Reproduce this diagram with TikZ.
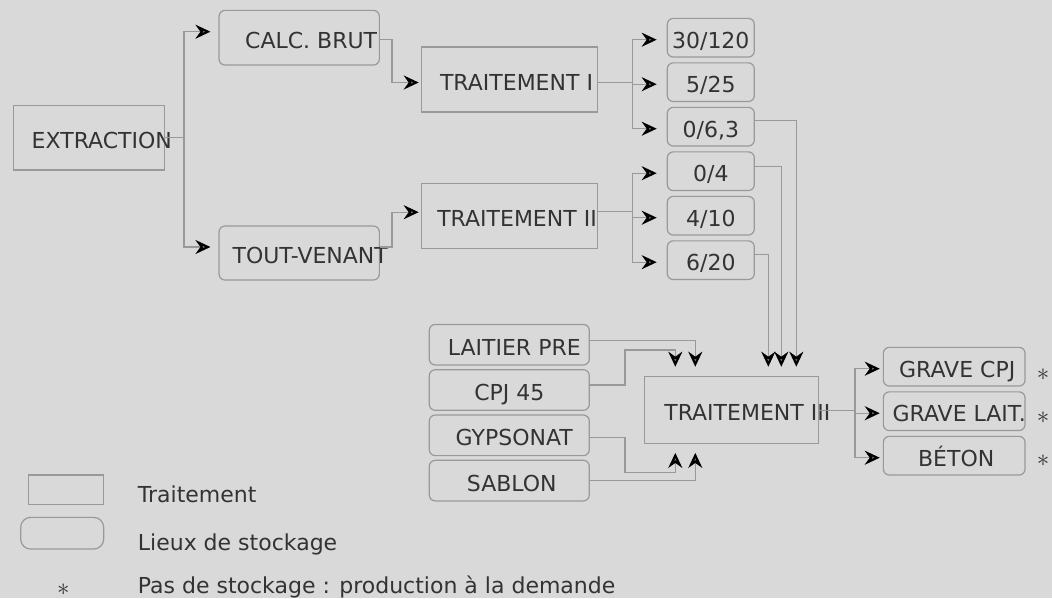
\documentclass[tikz,border=0pt]{standalone}
\usepackage{fontspec}
\setmainfont{DejaVu Sans}
\usetikzlibrary{arrows.meta, positioning}

\definecolor{bgcol}{HTML}{D9D9D9}
\definecolor{edgecol}{HTML}{999999}
\definecolor{txtcol}{HTML}{333333}

\begin{document}
\begin{tikzpicture}[
    x=1pt, y=1pt,
    % ── Global ──
    node distance=4.6pt,
    % ── Node Styles ──
    traitbox/.style={
        rectangle, draw=edgecol, line width=1.2pt,
        text=txtcol, font=\fontsize{22pt}{26pt}\selectfont,
        text height=21pt, text depth=0pt, inner sep=0pt
    },
    stockbox/.style={
        traitbox, rounded corners=6pt
    },
    textshift/.style={
        execute at begin node={\hspace*{#1}},
        execute at end node={\hspace*{-#1}}
    },
    gradebox/.style={stockbox, minimum width=87pt, minimum height=38.7pt},
    supplybox/.style={stockbox, minimum width=160pt, minimum height=40.6pt},
    prodbox/.style={stockbox, minimum width=141.7pt, minimum height=38.7pt},
    starmark/.style={text=txtcol, font=\fontsize{24.88pt}{28pt}\selectfont, inner sep=0pt},
    legtext/.style={text=txtcol, font=\fontsize{22pt}{26pt}\selectfont,
        inner sep=0pt, anchor=base west},
    flow/.style={draw=edgecol, line width=1.3pt,
        -{Stealth[length=15pt, width=14pt, inset=5pt, color=black,
          fill=black!45, line width=2.2pt]}},
]

\useasboundingbox (0,0) rectangle (1052,-598);
\fill[bgcol] (0,0) rectangle (1052,-598);

% ════════════════════════════════════════════════════════
%  EXTRACTION AND RAW STOCKS
% ════════════════════════════════════════════════════════

\node (extraction) [traitbox, textshift=13pt,
    minimum width=151pt, minimum height=64.3pt]
    at (88.8,-137.8) {EXTRACTION};

\node (calc) [stockbox, textshift=12pt,
    minimum width=160.3pt, minimum height=54.7pt]
    at (299.2,-37.7) {CALC. BRUT};

\node (toutv) [stockbox, textshift=11pt,
    minimum width=160.3pt, minimum height=54pt]
    at (299.2,-253) {TOUT-VENANT};

% ════════════════════════════════════════════════════════
%  TREATMENTS I AND II, GRADED STOCKS
% ════════════════════════════════════════════════════════

\node (trait1) [traitbox, textshift=7pt,
    minimum width=176.4pt, minimum height=65pt]
    at (509.5,-79.5) {TRAITEMENT I};

\node (trait2) [traitbox, textshift=7.5pt,
    minimum width=176.4pt, minimum height=65pt]
    at (509.5,-216.2) {TRAITEMENT II};

\node (g1) [gradebox] at (710.8,-37.7) {30/120};
\node (g2) [gradebox, below=of g1] {5/25};
\node (g3) [gradebox, below=of g2] {0/6,3};
\node (g4) [gradebox, below=of g3] {0/4};
\node (g5) [gradebox, below=of g4] {4/10};
\node (g6) [gradebox, below=of g5] {6/20};

% ════════════════════════════════════════════════════════
%  TREATMENT III, ADDITIVES, PRODUCTS
% ════════════════════════════════════════════════════════

\node (trait3) [traitbox, textshift=16pt,
    minimum width=174pt, minimum height=67pt]
    at (731.3,-409.8) {TRAITEMENT III};

\node (lait) [supplybox, textshift=5pt] at (509.3,-344.7) {LAITIER PRE};
\node (cpj)  [supplybox, below=3.5pt of lait] {CPJ 45};
\node (gyps) [supplybox, textshift=5pt, below=3.5pt of cpj] {GYPSONAT};
\node (sab)  [supplybox, textshift=2.5pt, below=3.5pt of gyps] {SABLON};

\node (p1) [prodbox, textshift=3pt] at (954.2,-366.7) {GRAVE CPJ};
\node (p2) [prodbox, textshift=5pt, below=of p1] {GRAVE LAIT.};
\node (p3) [prodbox, textshift=2pt, below=of p2] {BÉTON};

\node (star1) [starmark] at (1043,-375) {$\ast$};
\node (star2) [starmark] at (1043,-418) {$\ast$};
\node (star3) [starmark] at (1043,-461) {$\ast$};

% ════════════════════════════════════════════════════════
%  LEGEND
% ════════════════════════════════════════════════════════

\node (legtrait) [traitbox, minimum width=75.4pt, minimum height=29.3pt]
    at (66,-489.7) {};
\node (legstock) [stockbox, rounded corners=10pt,
    minimum width=83pt, minimum height=31.7pt] at (62.2,-533.2) {};
\node (legstar) [starmark] at (63.3,-590) {$\ast$};

\node (legtxt1) [legtext] at (137.7,-502.3) {Traitement};
\node (legtxt2) [legtext] at (137.7,-550.7) {Lieux de stockage};
\node (legtxt3) [legtext] at (137.7,-593.3) {Pas de stockage : production à la demande};

% ════════════════════════════════════════════════════════
%  ARROWS
% ════════════════════════════════════════════════════════

% Extraction
\draw [flow] (extraction.east) -- ++(19,0) |- ([xshift=-8pt,yshift=6pt]calc.west);
\draw [flow] (extraction.east) -- ++(19,0) |- ([xshift=-8pt,yshift=6pt]toutv.west);

% Raw stocks → treatments
\draw [flow] ([yshift=-2pt]calc.east) -- ++(12,0) |- ([xshift=-2pt,yshift=-3pt]trait1.west);
\draw [flow] ([yshift=6pt]toutv.east) -- ++(12,0) |- ([xshift=-2pt,yshift=4pt]trait2.west);

% Treatments → graded stocks
\foreach \g in {g1,g2,g3}
    \draw [flow] ([yshift=-3pt]trait1.east) -- ++(34,0) |- ([xshift=-10pt,yshift=-2pt]\g.west);
\foreach \g in {g4,g5,g6}
    \draw [flow] ([yshift=4.5pt]trait2.east) -- ++(34,0) |- ([xshift=-10pt,yshift=-2pt]\g.west);

% Graded stocks → treatment III
\draw [flow] ([yshift=6pt]g3.east) -| ([xshift=65pt,yshift=9pt]trait3.north);
\draw [flow] ([yshift=5pt]g4.east) -| ([xshift=50pt,yshift=9pt]trait3.north);
\draw [flow] ([yshift=6pt]g6.east) -| ([xshift=37pt,yshift=9pt]trait3.north);

% Additives → treatment III
\draw [flow] ([yshift=4pt]lait.east) -| ([xshift=-36pt,yshift=9pt]trait3.north);
\draw [flow] ([yshift=5pt]cpj.east) -- ++(35,0) -- ++(0,35)
    -| ([xshift=-56pt,yshift=9pt]trait3.north);
\draw [flow] ([yshift=-2pt]gyps.east) -- ++(35,0) -- ++(0,-35)
    -| ([xshift=-56pt,yshift=-9pt]trait3.south);
\draw [flow] (sab.east) -| ([xshift=-36pt,yshift=-9pt]trait3.south);

% Treatment III → products
\foreach \p in {p1,p2,p3}
    \draw [flow] ([yshift=-1pt]trait3.east) -- ++(36,0) |- ([xshift=-3pt,yshift=-2pt]\p.west);

\end{tikzpicture}
\end{document}
